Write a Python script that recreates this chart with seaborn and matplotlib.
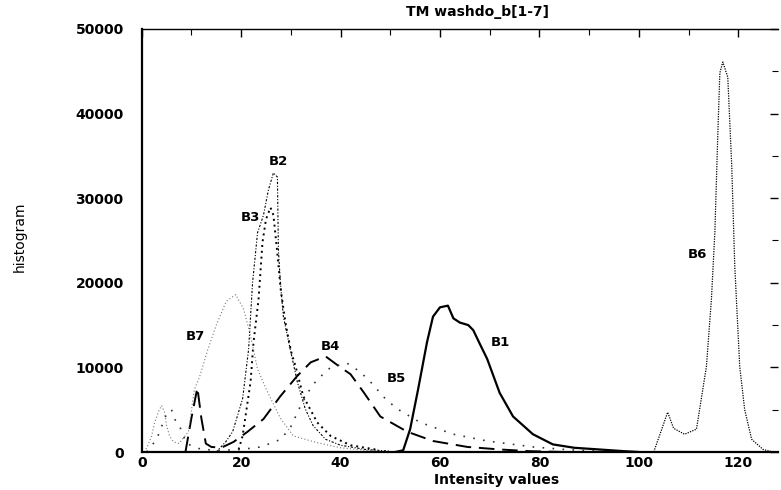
import pandas as pd
import seaborn as sns
import matplotlib.pyplot as plt
from matplotlib.ticker import MultipleLocator

# Histogram curves per band (intensity value, count)
b1_x = [51, 52.6, 54, 55.6, 57.4, 58.6, 60, 61.6, 62.7, 64, 65.7, 66.7, 68, 69.5, 72, 74.7, 78.7, 82.7, 87, 92, 97, 100]
b1_y = [0, 200, 2700, 7400, 13000, 16000, 17100, 17300, 15800, 15300, 15000, 14400, 12800, 11000, 7000, 4200, 2100, 900, 500, 300, 100, 0]

b2_x = [15, 16.9, 18.3, 20.3, 21.5, 22.3, 23.3, 24.5, 25.5, 26.5, 27.3, 27.5, 27.9, 28.5, 29.9, 31.3, 32.9, 34.5, 37, 40, 45, 50]
b2_y = [0, 1200, 2400, 6300, 12100, 20000, 25900, 28000, 31000, 33000, 32500, 23900, 20000, 16000, 12100, 8300, 5100, 3100, 1500, 800, 300, 100]

b3_x = [19.5, 20.3, 21.9, 22.5, 23.5, 24.3, 25, 25.9, 26.5, 27.2, 28, 29, 30, 31, 32.5, 35.3, 38, 42, 47]
b3_y = [300, 1900, 8300, 13000, 18000, 24800, 27500, 28900, 28000, 24000, 19000, 15000, 12000, 10000, 6600, 3500, 1900, 800, 300]

b4_x = [8.8, 10, 11.2, 12, 12.9, 14, 16, 18.5, 21.3, 24.5, 27.9, 31.3, 34, 37, 40, 42, 44.6, 48, 53.4, 58.6, 65.5, 72, 78, 85]
b4_y = [0, 4000, 7600, 4000, 1000, 600, 500, 1200, 2400, 3900, 6600, 9000, 10600, 11300, 10000, 9200, 7100, 4200, 2400, 1300, 600, 300, 100, 0]

b5_x = [1, 3, 5, 6, 6.6, 7.6, 9, 12, 16, 20, 24, 28, 30, 32, 33.5, 35.2, 38, 41.3, 43.9, 46, 49, 51.4, 56, 62.7, 69.5, 78.7, 85, 92]
b5_y = [0, 1500, 4500, 5000, 3900, 3100, 1000, 300, 200, 300, 600, 1500, 3000, 5500, 7100, 8500, 10000, 10500, 9500, 8300, 6300, 5100, 3500, 2100, 1300, 600, 300, 100]

b6_x = [100, 103, 104.5, 105.8, 107, 109.2, 111.6, 113.6, 114.6, 115.3, 115.9, 116.3, 116.9, 117.9, 118.7, 119.3, 120.3, 121.3, 122.7, 125, 127]
b6_y = [0, 0, 2500, 4700, 2800, 2100, 2700, 10100, 18000, 26000, 37700, 44800, 46100, 44300, 33700, 22000, 10100, 5000, 1500, 300, 0]

b7_x = [0.5, 1.2, 2, 2.6, 3.4, 4, 4.6, 5, 5.6, 6.4, 7.5, 9.4, 10.6, 11.6, 13.3, 15, 17, 18.9, 20.5, 21.9, 23.3, 25.3, 27.9, 30.5, 35.3, 40, 45, 50]
b7_y = [0, 700, 1900, 3500, 4800, 5500, 4700, 3100, 1900, 1200, 1000, 2400, 7400, 8800, 12100, 15000, 17800, 18600, 16900, 13700, 9800, 7100, 4000, 1900, 1100, 500, 200, 0]

bands = ['B1', 'B2', 'B3', 'B4', 'B5', 'B6', 'B7']
label_x = [72.1, 27.4, 21.8, 37.9, 51.2, 111.8, 10.7]
label_y = [13000, 34300, 27700, 12500, 8700, 23300, 13700]

curves = {'B1': (b1_x, b1_y), 'B2': (b2_x, b2_y), 'B3': (b3_x, b3_y), 'B4': (b4_x, b4_y),
          'B5': (b5_x, b5_y), 'B6': (b6_x, b6_y), 'B7': (b7_x, b7_y)}

estilos = {
    'B1': dict(ls='-', lw=1.6, color='black'),
    'B2': dict(ls=(0, (2, 1.5, 1, 1.5)), lw=0.8, color='black'),
    'B3': dict(ls=(0, (1, 2)), lw=1.4, color='black'),
    'B4': dict(ls=(0, (8, 4)), lw=1.4, color='black'),
    'B5': dict(ls=(0, (1, 5)), lw=1.2, color='#333333'),
    'B6': dict(ls=(0, (1, 1)), lw=0.9, color='black'),
    'B7': dict(ls=(0, (1, 2)), lw=0.8, color='#777777'),
}

sns.set_style("white")
plt.rcParams['font.family'] = ['DejaVu Sans']
plt.rcParams['text.color'] = 'black'
plt.rcParams['xtick.color'] = 'black'
plt.rcParams['ytick.color'] = 'black'

fig = plt.figure(figsize=(7.81, 4.9), dpi=100)
ax = fig.add_axes([141.7 / 781, 1 - 452 / 490, (778 - 141.7) / 781, (452 - 29) / 490])

for b in bands:
    xs, ys = curves[b]
    df = pd.DataFrame({'x': xs, 'y': ys})
    e = estilos[b]
    sns.lineplot(data=df, x='x', y='y', ax=ax, color=e['color'], linestyle=e['ls'], lw=e['lw'])

for b, lx, ly in zip(bands, label_x, label_y):
    ax.text(lx, ly, b, ha='center', va='center', fontsize=9.5, fontweight='bold')

ax.set_xlim(0, 128)
ax.set_ylim(0, 50000)
ax.xaxis.set_major_locator(MultipleLocator(20))
ax.xaxis.set_minor_locator(MultipleLocator(10))
ax.yaxis.set_major_locator(MultipleLocator(10000))
ax.yaxis.set_minor_locator(MultipleLocator(5000))
ax.tick_params(which='both', direction='in', top=True, right=True)
ax.tick_params(which='major', length=6, width=1)
ax.tick_params(which='minor', length=4, width=0.8)
ax.tick_params(axis='y', pad=13)
ax.tick_params(axis='x', pad=3)
for lab in ax.get_xticklabels() + ax.get_yticklabels():
    lab.set_fontweight('bold')
    lab.set_fontsize(10)

ax.spines['left'].set_linewidth(1.6)
ax.spines['bottom'].set_linewidth(1.6)
ax.spines['top'].set_linewidth(1.0)
ax.spines['right'].set_visible(False)
for s in ['left', 'bottom', 'top']:
    ax.spines[s].set_color('black')

ax.set_xlabel('')
ax.set_ylabel('')
fig.text(477 / 781, 1 - 12 / 490, 'TM washdo_b[1-7]', ha='center', va='center', fontsize=10, fontweight='bold')
fig.text(497 / 781, 1 - 480 / 490, 'Intensity values', ha='center', va='center', fontsize=10, fontweight='bold')
fig.text(20 / 781, 1 - 237 / 490, 'histogram', rotation=90, ha='center', va='center', fontsize=10)

fig.savefig('out.png', dpi=100)
